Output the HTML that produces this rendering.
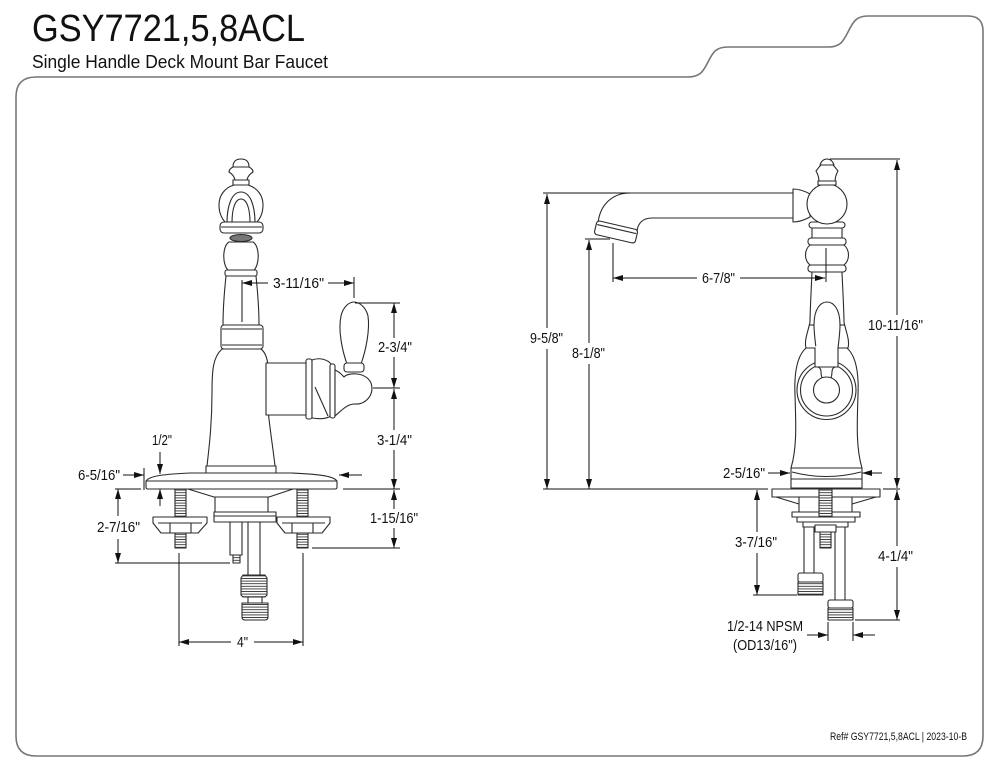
<!DOCTYPE html>
<html><head><meta charset="utf-8"><style>
html,body{margin:0;padding:0;background:#fff;}
svg{display:block;}
text{font-family:"Liberation Sans",Arial,sans-serif;fill:#111;}
</style></head><body>
<svg width="1000" height="773" viewBox="0 0 1000 773" xmlns="http://www.w3.org/2000/svg">
<defs>
<marker id="ar" markerWidth="10" markerHeight="6" refX="10" refY="3" orient="auto" markerUnits="userSpaceOnUse"><path d="M0,0 L10,3 L0,6 Z" fill="#111"/></marker>
<pattern id="th" width="6" height="2.6" patternUnits="userSpaceOnUse"><rect width="6" height="2.6" fill="#fff"/><line x1="0" y1="1.3" x2="6" y2="1.3" stroke="#333" stroke-width="0.9"/></pattern>
</defs>
<rect width="1000" height="773" fill="#fff"/>

<!-- frame -->
<path d="M36,77 L687,77 C700,77 703,72 708,62 C713,52 716,47 728,47 L828,47 C840,47 843,42 848,32 C853,22 856,16 868,16 L968,16 Q983,16 983,31 L983,736 Q983,756 963,756 L36,756 Q16,756 16,736 L16,97 Q16,77 36,77 Z" fill="none" stroke="#777" stroke-width="1.6"/>

<!-- header -->
<text x="32" y="41" font-size="38" textLength="273" lengthAdjust="spacingAndGlyphs">GSY7721,5,8ACL</text>
<text x="32" y="68" font-size="18" textLength="296" lengthAdjust="spacingAndGlyphs">Single Handle Deck Mount Bar Faucet</text>
<text x="830" y="740" font-size="11" textLength="137" lengthAdjust="spacingAndGlyphs">Ref# GSY7721,5,8ACL | 2023-10-B</text>

<!-- LEFT FAUCET -->
<g fill="#fff" stroke="#2a2a2a" stroke-width="1.1" stroke-linejoin="round">
  <!-- finial -->
  <path d="M233,167 Q233,159 241,159 Q249,159 249,167 Z"/>
  <path d="M233,167 L249,167 Q253,169 253,172 Q248,175 247,180 L235,180 Q234,175 229,172 Q229,169 233,167 Z"/>
  <rect x="233" y="180" width="16" height="5"/>
  <!-- spout front -->
  <path d="M234,185 C224,188 219,196 219,205 C219,213 222,219 226,223 L256,223 C260,219 263,213 263,205 C263,196 258,188 248,185 Z"/>
  <path d="M227,223 C227,205 232,192 241,192 C250,192 255,205 255,223" fill="none"/>
  <path d="M232,223 C232,209 235,199 241,199 C247,199 250,209 250,223" fill="none"/>
  <rect x="220" y="222" width="43" height="11" rx="4"/>
  <line x1="221" y1="227" x2="262" y2="227"/>
  <ellipse cx="241" cy="238" rx="11" ry="3.5" fill="#777"/>
  <!-- bulb -->
  <path d="M229,242 C222,246 222,266 229,271 L253,271 C260,266 260,246 253,242 Z"/>
  <rect x="225" y="270" width="32" height="6" rx="2"/>
  <!-- neck -->
  <path d="M226,276 C224,295 223,310 223,325 L259,325 C259,310 258,295 256,276 Z"/>
  <rect x="221" y="325" width="42" height="24" rx="3"/>
  <line x1="222" y1="329" x2="262" y2="329"/>
  <line x1="222" y1="345" x2="262" y2="345"/>
  <!-- body -->
  <path d="M222,349 C213,357 212,370 212,392 C212,425 209,448 207,466 L275,466 C273,448 270,430 268,410 L268,365 C267,357 265,352 261,349 Z"/>
  <!-- arm -->
  <rect x="266" y="363" width="41" height="52"/>
  <rect x="306" y="359" width="6" height="60" rx="2"/>
  <path d="M312,360 C320,357 328,360 331,364 L331,416 C326,419 318,419 312,418 Z"/>
  <line x1="315" y1="387" x2="328" y2="416"/>
  <rect x="330" y="364" width="5" height="54" rx="2"/>
  <path d="M335,370 C340,372 342,375 344,377 C348,372 366,372 371,383 C375,395 365,405 355,404 C347,404 342,410 335,416 Z"/>
  <!-- lever -->
  <path d="M347,364 C342,350 338,330 341,316 C343,307 349,302 354,302 C359,302 366,307 368,316 C370,330 366,350 361,364 Z"/>
  <rect x="344" y="363" width="20" height="9" rx="3"/>
  <!-- base collar & plate -->
  <rect x="206" y="466" width="70" height="8"/>
  <path d="M146,481 C150,475 170,474 190,473 L292,473 C312,474 333,475 337,481 L337,487 Q337,489 335,489 L148,489 Q146,489 146,487 Z"/>
  <line x1="146" y1="481" x2="337" y2="481"/>
  <!-- under plate -->
  <path d="M188,489 L214,497 L269,497 L293,489 Z"/>
  <rect x="215" y="497" width="53" height="15"/>
  <rect x="214" y="512" width="62" height="10"/>
  <line x1="214" y1="516" x2="276" y2="516"/>
  <rect x="230" y="522" width="12" height="33"/>
  <rect x="233" y="555" width="7" height="8" fill="url(#th)"/>
  <rect x="248" y="522" width="12" height="53"/>
  <path d="M243,575 L265,575 L267,578 L267,595 L265,597 L243,597 L241,595 L241,578 Z" fill="url(#th)"/>
  <rect x="248" y="597" width="14" height="6"/>
  <path d="M242,603 L268,603 L268,617 Q268,620 265,620 L245,620 Q242,620 242,617 Z" fill="url(#th)"/>
  <!-- studs & brackets -->
  <rect x="175" y="489" width="11" height="28" fill="url(#th)"/>
  <rect x="297" y="489" width="11" height="28" fill="url(#th)"/>
  <path d="M153,517 L207,517 L207,523 L198,533 L161,533 L153,523 Z"/>
  <line x1="158" y1="523" x2="202" y2="523"/>
  <rect x="170" y="523" width="21" height="10"/>
  <path d="M277,517 L330,517 L330,523 L322,533 L285,533 L277,523 Z"/>
  <line x1="282" y1="523" x2="325" y2="523"/>
  <rect x="292" y="523" width="21" height="10"/>
  <rect x="175" y="533" width="11" height="15" fill="url(#th)"/>
  <rect x="297" y="533" width="11" height="15" fill="url(#th)"/>
</g>

<!-- LEFT DIMENSIONS -->
<g stroke="#111" stroke-width="1" fill="none">
  <line x1="268" y1="283" x2="242" y2="283" marker-end="url(#ar)"/>
  <line x1="328" y1="283" x2="354" y2="283" marker-end="url(#ar)"/>
  <line x1="242" y1="280" x2="242" y2="322"/>
  <line x1="354" y1="277" x2="354" y2="298"/>
  <line x1="394" y1="338" x2="394" y2="303" marker-end="url(#ar)"/>
  <line x1="394" y1="357" x2="394" y2="388" marker-end="url(#ar)"/>
  <line x1="355" y1="303" x2="400" y2="303"/>
  <line x1="373" y1="388" x2="400" y2="388"/>
  <line x1="394" y1="430" x2="394" y2="389" marker-end="url(#ar)"/>
  <line x1="394" y1="450" x2="394" y2="489" marker-end="url(#ar)"/>
  <line x1="343" y1="489" x2="400" y2="489"/>
  <line x1="394" y1="509" x2="394" y2="490" marker-end="url(#ar)"/>
  <line x1="394" y1="528" x2="394" y2="548" marker-end="url(#ar)"/>
  <line x1="312" y1="548" x2="400" y2="548"/>
  <line x1="160" y1="452" x2="160" y2="474" marker-end="url(#ar)"/>
  <line x1="160" y1="506" x2="160" y2="489" marker-end="url(#ar)"/>
  <line x1="123" y1="475" x2="144" y2="475" marker-end="url(#ar)"/>
  <line x1="362" y1="475" x2="339" y2="475" marker-end="url(#ar)"/>
  <line x1="144" y1="468" x2="144" y2="490"/>
  <line x1="118" y1="516" x2="118" y2="489" marker-end="url(#ar)"/>
  <line x1="118" y1="539" x2="118" y2="563" marker-end="url(#ar)"/>
  <line x1="115" y1="489" x2="141" y2="489"/>
  <line x1="115" y1="563" x2="230" y2="563"/>
  <line x1="231" y1="642" x2="179" y2="642" marker-end="url(#ar)"/>
  <line x1="254" y1="642" x2="303" y2="642" marker-end="url(#ar)"/>
  <line x1="179" y1="553" x2="179" y2="646"/>
  <line x1="303" y1="553" x2="303" y2="646"/>
</g>
<g font-size="14.5">
  <text x="273" y="288" textLength="51" lengthAdjust="spacingAndGlyphs">3-11/16"</text>
  <text x="378" y="352" textLength="34" lengthAdjust="spacingAndGlyphs">2-3/4"</text>
  <text x="377" y="445" textLength="35" lengthAdjust="spacingAndGlyphs">3-1/4"</text>
  <text x="370" y="523" textLength="48" lengthAdjust="spacingAndGlyphs">1-15/16"</text>
  <text x="152" y="445" textLength="20" lengthAdjust="spacingAndGlyphs">1/2"</text>
  <text x="78" y="480" textLength="42" lengthAdjust="spacingAndGlyphs">6-5/16"</text>
  <text x="97" y="532" textLength="43" lengthAdjust="spacingAndGlyphs">2-7/16"</text>
  <text x="237" y="647" textLength="11" lengthAdjust="spacingAndGlyphs">4"</text>
</g>

<!-- RIGHT FAUCET -->
<g fill="#fff" stroke="#2a2a2a" stroke-width="1.1" stroke-linejoin="round">
  <!-- spout -->
  <path d="M630,193 L796,193 L796,218 L652,218 C643,218 638,223 637,231 L598,223 C600,205 612,193 630,193 Z"/>
  <g transform="rotate(13 616 232)">
    <rect x="595" y="225" width="42" height="14" rx="3"/>
    <line x1="596" y1="229" x2="636" y2="229"/>
  </g>
  <!-- stem -->
  <path d="M812,272 L842,272 C843,295 844,312 844,322 C846,332 850,340 848,348 L806,348 C804,340 808,332 810,322 C810,312 811,295 812,272 Z"/>
  <path d="M816,348 C815,340 814,332 814,325 C814,308 821,302 827,302 C833,302 840,308 840,325 C840,332 839,340 838,348" fill="none"/>
  <line x1="809" y1="325" x2="814" y2="325"/>
  <line x1="840" y1="325" x2="845" y2="325"/>
  <!-- rings below ball -->
  <rect x="808" y="265" width="38" height="7" rx="3"/>
  <path d="M810,245 C804,250 804,260 810,265 L844,265 C850,260 850,250 844,245 Z"/>
  <rect x="808" y="238" width="38" height="7" rx="3"/>
  <rect x="812" y="227" width="30" height="11"/>
  <rect x="809" y="222" width="36" height="6" rx="3"/>
  <!-- connector collar -->
  <path d="M793,189 Q801,189 810,194 L810,217 Q801,222 793,222 Z"/>
  <!-- ball -->
  <circle cx="827" cy="204" r="20"/>
  <!-- finial -->
  <path d="M816,171 Q819,167 821,165 L833,165 Q835,167 838,171 Q835,176 835,182 L819,182 Q819,176 816,171 Z"/>
  <path d="M820,165 Q822,159 827,159 Q832,159 834,165 Z"/>
  <rect x="818" y="181" width="18" height="4"/>
  <!-- body -->
  <path d="M806,348 C797,356 794,372 795,395 C796,425 797,448 791,468 L862,468 C856,448 857,425 858,395 C859,372 856,356 847,348 Z"/>
  <circle cx="826.5" cy="390" r="29.5"/>
  <circle cx="826.5" cy="390" r="26"/>
  <rect x="815.5" y="346" width="22" height="21" stroke="none"/>
  <line x1="815" y1="348" x2="815" y2="367"/>
  <line x1="838" y1="348" x2="838" y2="367"/>
  <line x1="815" y1="367" x2="838" y2="367"/>
  <circle cx="826.5" cy="390" r="13"/>
  <path d="M818,367 Q821,368 821,372 Q821,375 822,378" fill="none"/>
  <path d="M835,367 Q832,368 832,372 Q832,375 831,378" fill="none"/>
  <!-- base -->
  <rect x="791" y="468" width="71" height="20"/>
  <path d="M792,472 Q826,481 861,472" fill="none"/>
  <line x1="791" y1="479" x2="862" y2="479"/>
  <!-- plate -->
  <rect x="772" y="489" width="108" height="8"/>
  <line x1="776" y1="497" x2="799" y2="504"/>
  <line x1="876" y1="497" x2="852" y2="504"/>
  <line x1="799" y1="497" x2="799" y2="512"/>
  <line x1="852" y1="497" x2="852" y2="512"/>
  <rect x="792" y="512" width="68" height="5"/>
  <rect x="797" y="517" width="58" height="5"/>
  <rect x="803" y="522" width="45" height="5"/>
  <rect x="819" y="489" width="13" height="28" fill="url(#th)"/>
  <rect x="804" y="527" width="10" height="46"/>
  <rect x="835" y="527" width="10" height="73"/>
  <rect x="815" y="525" width="21" height="7"/>
  <rect x="820" y="532" width="11" height="16" fill="url(#th)"/>
  <rect x="798" y="573" width="25" height="9" rx="2"/>
  <rect x="798" y="582" width="25" height="13" fill="url(#th)"/>
  <rect x="828" y="600" width="25" height="8" rx="2"/>
  <rect x="828" y="608" width="25" height="12" fill="url(#th)"/>
</g>

<!-- RIGHT DIMENSIONS -->
<g stroke="#111" stroke-width="1" fill="none">
  <line x1="543" y1="489" x2="768" y2="489"/>
  <line x1="543" y1="193" x2="630" y2="193"/>
  <line x1="547" y1="328" x2="547" y2="194" marker-end="url(#ar)"/>
  <line x1="547" y1="349" x2="547" y2="489" marker-end="url(#ar)"/>
  <line x1="585" y1="239" x2="610" y2="239"/>
  <line x1="589" y1="343" x2="589" y2="240" marker-end="url(#ar)"/>
  <line x1="589" y1="364" x2="589" y2="489" marker-end="url(#ar)"/>
  <line x1="613" y1="243" x2="613" y2="282"/>
  <line x1="826" y1="248" x2="826" y2="282"/>
  <line x1="697" y1="278" x2="613" y2="278" marker-end="url(#ar)"/>
  <line x1="740" y1="278" x2="825" y2="278" marker-end="url(#ar)"/>
  <line x1="830" y1="159" x2="900" y2="159"/>
  <line x1="897" y1="315" x2="897" y2="160" marker-end="url(#ar)"/>
  <line x1="897" y1="336" x2="897" y2="488" marker-end="url(#ar)"/>
  <line x1="883" y1="489" x2="900" y2="489"/>
  <line x1="897" y1="546" x2="897" y2="490" marker-end="url(#ar)"/>
  <line x1="897" y1="567" x2="897" y2="620" marker-end="url(#ar)"/>
  <line x1="855" y1="620" x2="900" y2="620"/>
  <line x1="768" y1="473" x2="790" y2="473" marker-end="url(#ar)"/>
  <line x1="882" y1="473" x2="862" y2="473" marker-end="url(#ar)"/>
  <line x1="757" y1="532" x2="757" y2="490" marker-end="url(#ar)"/>
  <line x1="757" y1="553" x2="757" y2="595" marker-end="url(#ar)"/>
  <line x1="753" y1="595" x2="797" y2="595"/>
  <line x1="807" y1="635" x2="828" y2="635" marker-end="url(#ar)"/>
  <line x1="875" y1="635" x2="853" y2="635" marker-end="url(#ar)"/>
  <line x1="828" y1="622" x2="828" y2="641"/>
  <line x1="853" y1="622" x2="853" y2="641"/>
</g>
<g font-size="14.5">
  <text x="702" y="283" textLength="33" lengthAdjust="spacingAndGlyphs">6-7/8"</text>
  <text x="868" y="330" textLength="55" lengthAdjust="spacingAndGlyphs">10-11/16"</text>
  <text x="530" y="343" textLength="33" lengthAdjust="spacingAndGlyphs">9-5/8"</text>
  <text x="572" y="358" textLength="33" lengthAdjust="spacingAndGlyphs">8-1/8"</text>
  <text x="723" y="478" textLength="42" lengthAdjust="spacingAndGlyphs">2-5/16"</text>
  <text x="735" y="547" textLength="42" lengthAdjust="spacingAndGlyphs">3-7/16"</text>
  <text x="878" y="561" textLength="35" lengthAdjust="spacingAndGlyphs">4-1/4"</text>
  <text x="727" y="631" textLength="76" lengthAdjust="spacingAndGlyphs">1/2-14 NPSM</text>
  <text x="733" y="650" textLength="64" lengthAdjust="spacingAndGlyphs">(OD13/16")</text>
</g>
</svg>
</body></html>
